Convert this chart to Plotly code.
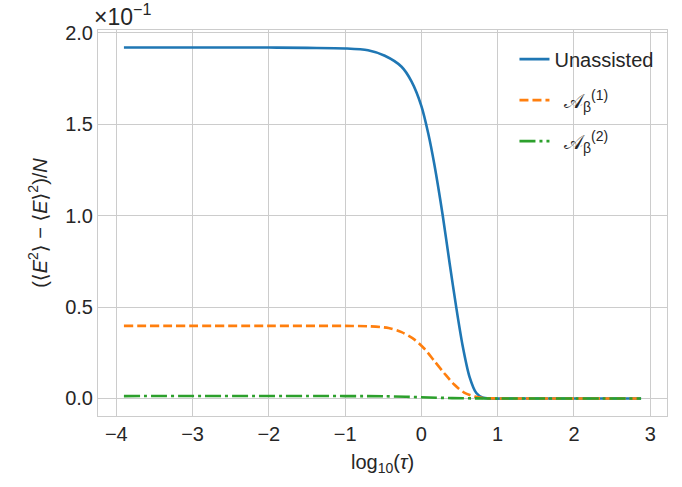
import plotly.graph_objects as go

# values in units of 1e-1 (as shown on the y axis, "×10^-1")
x_unassisted = [-3.9, -2.0, -1.5, -1.0, -0.7, -0.48, -0.26, -0.13, 0.0, 0.09, 0.17, 0.28,
                0.37, 0.46, 0.54, 0.63, 0.72, 0.80, 0.90, 1.2, 2.0, 2.88]
y_unassisted = [1.92, 1.92, 1.918, 1.915, 1.905, 1.875, 1.815, 1.735, 1.60, 1.45, 1.28, 1.0,
                0.74, 0.49, 0.29, 0.12, 0.03, 0.006, 0.0, 0.0, 0.0, 0.0]

x_a1 = [-3.9, -2.0, -1.0, -0.7, -0.43, -0.26, -0.09, 0.04, 0.17, 0.30, 0.43, 0.56, 0.70,
        0.83, 1.0, 2.0, 2.88]
y_a1 = [0.397, 0.397, 0.397, 0.395, 0.385, 0.363, 0.322, 0.272, 0.205, 0.138, 0.076, 0.032,
        0.010, 0.002, 0.0, 0.0, 0.0]

x_a2 = [-3.9, -1.0, -0.5, -0.2, 0.1, 0.4, 0.7, 1.0, 2.0, 2.88]
y_a2 = [0.013, 0.013, 0.012, 0.009, 0.005, 0.002, 0.0005, 0.0, 0.0, 0.0]

x_ticks = [-4, -3, -2, -1, 0, 1, 2, 3]
y_ticks = [0.0, 0.5, 1.0, 1.5, 2.0]
y_ticklabels = ["0.0", "0.5", "1.0", "1.5", "2.0"]

names = ["Unassisted", "\u2009 𝒜<sub>β</sub><sup>(1)</sup>", "\u2009 𝒜<sub>β</sub><sup>(2)</sup>"]

FONT = "Liberation Sans, Arial, DejaVu Sans, sans-serif"
TXT = "#262626"
GRID = "#cccccc"
FS = 20

fig = go.Figure()
fig.add_trace(go.Scatter(x=x_unassisted, y=y_unassisted, mode="lines", name=names[0],
                         legendgroup="g0",
                         line=dict(color="#1f77b4", width=2.6, shape="spline", smoothing=0.8)))
fig.add_trace(go.Scatter(x=x_a1, y=y_a1, mode="lines", name=names[1], legendgroup="g1",
                         line=dict(color="#ff7f0e", width=2.6, dash="9px,4px",
                                   shape="spline", smoothing=0.8)))
fig.add_trace(go.Scatter(x=x_a2, y=y_a2, mode="lines", name=names[2], legendgroup="g2",
                         line=dict(color="#2ca02c", width=2.6, dash="16px,4px,3px,4px",
                                   shape="spline", smoothing=0.8)))

fig.update_layout(
    width=682, height=487,
    margin=dict(l=98, r=15, t=30, b=71),
    paper_bgcolor="white", plot_bgcolor="white",
    font=dict(family=FONT, size=FS, color=TXT),
    legend=dict(x=0.985, y=0.975, xanchor="right", yanchor="top",
                bgcolor="rgba(255,255,255,0)", font=dict(size=FS, color=TXT),
                tracegroupgap=12),
    showlegend=True,
)
fig.update_xaxes(range=[-4.24, 3.22], tickvals=x_ticks,
                 ticktext=[str(t).replace("-", "−") for t in x_ticks],
                 showgrid=True, gridcolor=GRID, gridwidth=1, zeroline=False,
                 showline=True, linecolor=GRID, linewidth=1, mirror=True,
                 ticks="", tickfont=dict(size=FS, color=TXT),
                 title=dict(text="log<sub>10</sub>(<i>τ</i>)", font=dict(size=FS, color=TXT),
                            standoff=10))
fig.update_yaxes(range=[-0.096, 2.016], tickvals=y_ticks, ticktext=y_ticklabels,
                 showgrid=True, gridcolor=GRID, gridwidth=1, zeroline=False,
                 showline=True, linecolor=GRID, linewidth=1, mirror=True,
                 ticks="", tickfont=dict(size=FS, color=TXT),
                 title=dict(text="(⟨<i>E</i><sup>2</sup>⟩ − ⟨<i>E</i>⟩<sup>2</sup>)/<i>N</i>",
                            font=dict(size=FS, color=TXT), standoff=12))
fig.add_annotation(text="×10<sup>−1</sup>", xref="paper", yref="paper", x=0.0, y=1.0,
                   xanchor="left", yanchor="bottom", showarrow=False,
                   font=dict(size=23, color=TXT), xshift=-6, yshift=-2)

fig.write_html("out.html")
